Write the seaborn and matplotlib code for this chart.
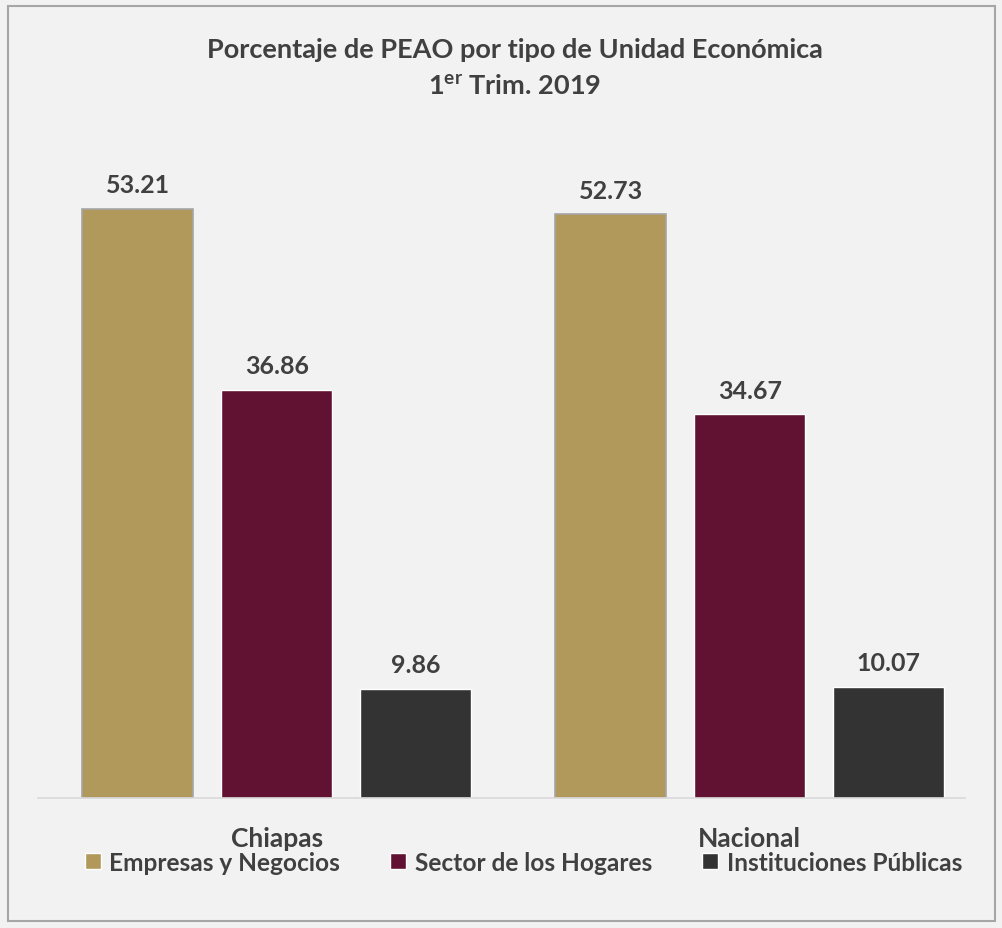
import pandas as pd
import matplotlib.pyplot as plt
import seaborn as sns
from matplotlib.patches import Rectangle

regions = ["Chiapas", "Nacional"]
tipos = ["Empresas y Negocios", "Sector de los Hogares", "Instituciones Públicas"]
empresas = [53.21, 52.73]
hogares = [36.86, 34.67]
publicas = [9.86, 10.07]

colors = ["#b0995b", "#611232", "#333333"]
txt = "#404040"

df = pd.DataFrame({
    "region": regions * 3,
    "tipo": [tipos[0]] * 2 + [tipos[1]] * 2 + [tipos[2]] * 2,
    "pct": empresas + hogares + publicas,
})

sns.set_theme(style="white")
plt.rcParams["font.family"] = ["Lato", "DejaVu Sans"]
plt.rcParams["mathtext.fontset"] = "custom"
plt.rcParams["mathtext.bf"] = "Lato:bold"
plt.rcParams["mathtext.rm"] = "Lato:bold"

fig = plt.figure(figsize=(10.03, 9.29), dpi=100, facecolor="#f2f2f2")
ax = fig.add_axes([0.0379, 0.1399, 0.9241, 0.6986])
ax.set_facecolor("#f2f2f2")

sns.barplot(data=df, x="region", y="pct", hue="tipo", hue_order=tipos,
            palette=colors, width=0.882, gap=0.2, ax=ax, saturation=1)

for i, cont in enumerate(ax.containers):
    if i == 0:
        for b in cont:
            b.set_edgecolor("#a6a6a6")
            b.set_linewidth(1.2)
    ax.bar_label(cont, fmt="%.2f", padding=9, fontsize=18,
                 fontweight="bold", color=txt)

ax.set_xlim(-0.505, 1.455)
ax.set_ylim(0, 58.6)
ax.set_xlabel("")
ax.set_ylabel("")
ax.set_yticks([])
ax.tick_params(axis="x", length=0, pad=20, labelsize=19, labelcolor=txt)
for lbl in ax.get_xticklabels():
    lbl.set_fontweight("bold")
for s in ["top", "left", "right"]:
    ax.spines[s].set_visible(False)
ax.spines["bottom"].set_color("#d9d9d9")
ax.spines["bottom"].set_linewidth(1.2)

handles, labels = ax.get_legend_handles_labels()
ax.get_legend().remove()
leg = fig.legend(handles, labels, loc="center", bbox_to_anchor=(0.522, 0.071),
                 ncol=3, frameon=False, fontsize=17.6, handlelength=0.65,
                 handleheight=0.65, handletextpad=0.35, columnspacing=2.05)
for t in leg.get_texts():
    t.set_fontweight("bold")
    t.set_color(txt)

fig.text(0.513, 0.946, "Porcentaje de PEAO por tipo de Unidad Económica",
         ha="center", va="center", fontsize=19.5, fontweight="bold", color=txt)
fig.text(0.513, 0.907, r"1$^{\mathbf{er}}$ Trim. 2019",
         ha="center", va="center", fontsize=19.5, fontweight="bold", color=txt)

fig.patches.append(Rectangle((0.008, 0.008), 0.984, 0.984, transform=fig.transFigure,
                             fill=False, edgecolor="#a6a6a6", linewidth=1.5))

fig.savefig("out.png", dpi=100, facecolor=fig.get_facecolor())
